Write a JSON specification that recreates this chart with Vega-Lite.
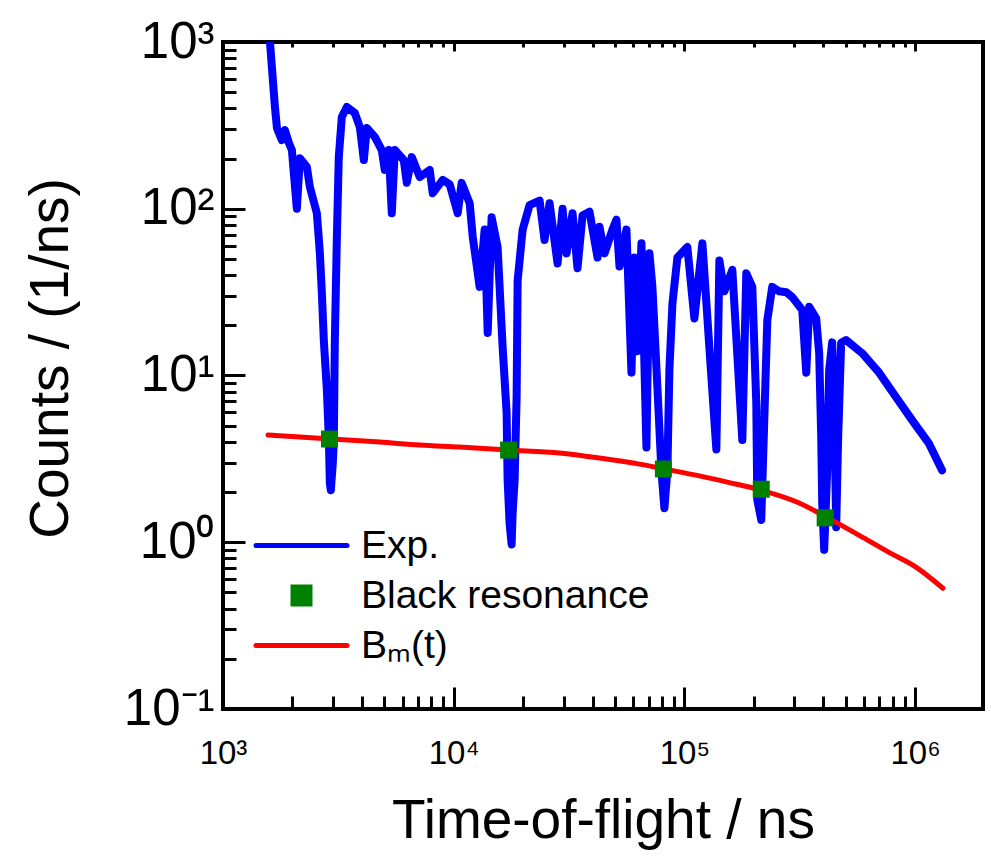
{
  "$schema": "https://vega.github.io/schema/vega-lite/v6.json",
  "width": 760,
  "height": 667,
  "autosize": {"type": "none"},
  "padding": {"left": 223, "top": 42, "right": 8, "bottom": 151},
  "background": "white",
  "config": {
    "font": "Liberation Sans",
    "view": {"stroke": "black", "strokeWidth": 4},
    "axis": {
      "domain": false,
      "grid": false,
      "labelColor": "black",
      "titleColor": "black",
      "tickColor": "black",
      "tickWidth": 3,
      "labelFont": "Liberation Sans",
      "titleFont": "Liberation Sans",
      "titleFontWeight": "normal",
      "labelOverlap": false,
      "labelFlush": false,
      "labelBound": false
    }
  },
  "datasets": {
    "exp": [
      {"t": 1535, "c": 1500, "s": "Exp."}, {"t": 1598, "c": 1000, "s": "Exp."}, {"t": 1679, "c": 408, "s": "Exp."},
      {"t": 1713, "c": 305, "s": "Exp."}, {"t": 1800, "c": 258, "s": "Exp."}, {"t": 1855, "c": 296, "s": "Exp."},
      {"t": 1931, "c": 248, "s": "Exp."}, {"t": 1989, "c": 225, "s": "Exp."}, {"t": 2090, "c": 100, "s": "Exp."},
      {"t": 2154, "c": 201, "s": "Exp."}, {"t": 2310, "c": 178, "s": "Exp."}, {"t": 2380, "c": 135, "s": "Exp."},
      {"t": 2552, "c": 94, "s": "Exp."}, {"t": 2630, "c": 54, "s": "Exp."}, {"t": 2683, "c": 31, "s": "Exp."},
      {"t": 2737, "c": 16, "s": "Exp."}, {"t": 2820, "c": 8.2, "s": "Exp."}, {"t": 2877, "c": 4.1, "s": "Exp."},
      {"t": 2905, "c": 2.26, "s": "Exp."}, {"t": 2934, "c": 2.05, "s": "Exp."}, {"t": 2993, "c": 3.0, "s": "Exp."},
      {"t": 3023, "c": 4.1, "s": "Exp."}, {"t": 3053, "c": 16, "s": "Exp."}, {"t": 3114, "c": 65, "s": "Exp."},
      {"t": 3176, "c": 204, "s": "Exp."}, {"t": 3274, "c": 355, "s": "Exp."}, {"t": 3441, "c": 408, "s": "Exp."},
      {"t": 3728, "c": 375, "s": "Exp."}, {"t": 3919, "c": 309, "s": "Exp."}, {"t": 4078, "c": 196, "s": "Exp."},
      {"t": 4202, "c": 305, "s": "Exp."}, {"t": 4550, "c": 270, "s": "Exp."}, {"t": 4879, "c": 225, "s": "Exp."},
      {"t": 5026, "c": 171, "s": "Exp."}, {"t": 5232, "c": 225, "s": "Exp."}, {"t": 5391, "c": 94, "s": "Exp."},
      {"t": 5555, "c": 225, "s": "Exp."}, {"t": 6075, "c": 196, "s": "Exp."}, {"t": 6260, "c": 143, "s": "Exp."},
      {"t": 6579, "c": 204, "s": "Exp."}, {"t": 7128, "c": 155, "s": "Exp."}, {"t": 7874, "c": 171, "s": "Exp."},
      {"t": 8112, "c": 124, "s": "Exp."}, {"t": 8964, "c": 149, "s": "Exp."}, {"t": 9610, "c": 140, "s": "Exp."},
      {"t": 10406, "c": 94, "s": "Exp."}, {"t": 10830, "c": 143, "s": "Exp."}, {"t": 11730, "c": 108, "s": "Exp."},
      {"t": 12090, "c": 68, "s": "Exp."}, {"t": 12960, "c": 34, "s": "Exp."}, {"t": 13620, "c": 75, "s": "Exp."},
      {"t": 14040, "c": 18, "s": "Exp."}, {"t": 14600, "c": 89, "s": "Exp."}, {"t": 15500, "c": 59, "s": "Exp."},
      {"t": 16300, "c": 14.8, "s": "Exp."}, {"t": 16960, "c": 6.0, "s": "Exp."}, {"t": 17130, "c": 2.36, "s": "Exp."},
      {"t": 17470, "c": 1.3, "s": "Exp."}, {"t": 17830, "c": 0.97, "s": "Exp."}, {"t": 18010, "c": 1.5, "s": "Exp."},
      {"t": 18370, "c": 2.36, "s": "Exp."}, {"t": 18740, "c": 7.4, "s": "Exp."}, {"t": 18930, "c": 37, "s": "Exp."},
      {"t": 19900, "c": 75, "s": "Exp."}, {"t": 21330, "c": 105, "s": "Exp."}, {"t": 23570, "c": 112, "s": "Exp."},
      {"t": 24770, "c": 65, "s": "Exp."}, {"t": 26040, "c": 108, "s": "Exp."}, {"t": 28200, "c": 47, "s": "Exp."},
      {"t": 29650, "c": 100, "s": "Exp."}, {"t": 30850, "c": 54, "s": "Exp."}, {"t": 32750, "c": 94, "s": "Exp."},
      {"t": 34410, "c": 44, "s": "Exp."}, {"t": 36170, "c": 91, "s": "Exp."}, {"t": 38790, "c": 96, "s": "Exp."},
      {"t": 42020, "c": 51, "s": "Exp."}, {"t": 42860, "c": 78, "s": "Exp."}, {"t": 45060, "c": 54, "s": "Exp."},
      {"t": 48800, "c": 75, "s": "Exp."}, {"t": 50760, "c": 86, "s": "Exp."}, {"t": 52320, "c": 45, "s": "Exp."},
      {"t": 56090, "c": 75, "s": "Exp."}, {"t": 58970, "c": 10.4, "s": "Exp."}, {"t": 60750, "c": 51, "s": "Exp."},
      {"t": 62590, "c": 14, "s": "Exp."}, {"t": 65150, "c": 62, "s": "Exp."}, {"t": 68470, "c": 3.7, "s": "Exp."},
      {"t": 70540, "c": 54, "s": "Exp."}, {"t": 72680, "c": 34, "s": "Exp."}, {"t": 76390, "c": 8.5, "s": "Exp."},
      {"t": 79500, "c": 2.7, "s": "Exp."}, {"t": 81920, "c": 1.6, "s": "Exp."}, {"t": 84410, "c": 2.7, "s": "Exp."},
      {"t": 86100, "c": 10.8, "s": "Exp."}, {"t": 88750, "c": 27, "s": "Exp."}, {"t": 93270, "c": 51, "s": "Exp."},
      {"t": 103000, "c": 59, "s": "Exp."}, {"t": 110500, "c": 22, "s": "Exp."}, {"t": 119700, "c": 62, "s": "Exp."},
      {"t": 128300, "c": 14.8, "s": "Exp."}, {"t": 137600, "c": 3.6, "s": "Exp."}, {"t": 141800, "c": 49, "s": "Exp."},
      {"t": 149000, "c": 32, "s": "Exp."}, {"t": 161400, "c": 43, "s": "Exp."}, {"t": 178300, "c": 4.1, "s": "Exp."},
      {"t": 185500, "c": 41, "s": "Exp."}, {"t": 197000, "c": 34, "s": "Exp."}, {"t": 205000, "c": 6.8, "s": "Exp."},
      {"t": 207000, "c": 1.8, "s": "Exp."}, {"t": 215400, "c": 1.36, "s": "Exp."}, {"t": 222000, "c": 5.4, "s": "Exp."},
      {"t": 228800, "c": 21.5, "s": "Exp."}, {"t": 240400, "c": 34, "s": "Exp."}, {"t": 257800, "c": 32, "s": "Exp."},
      {"t": 276400, "c": 31.6, "s": "Exp."}, {"t": 293500, "c": 29.5, "s": "Exp."}, {"t": 324300, "c": 24.7, "s": "Exp."},
      {"t": 337500, "c": 10.4, "s": "Exp."}, {"t": 347700, "c": 25.8, "s": "Exp."}, {"t": 372700, "c": 22, "s": "Exp."},
      {"t": 384000, "c": 13.6, "s": "Exp."}, {"t": 391900, "c": 4.3, "s": "Exp."}, {"t": 395800, "c": 1.72, "s": "Exp."},
      {"t": 403700, "c": 0.9, "s": "Exp."}, {"t": 415900, "c": 2.7, "s": "Exp."}, {"t": 424300, "c": 10.8, "s": "Exp."},
      {"t": 437200, "c": 15.8, "s": "Exp."}, {"t": 446100, "c": 6.8, "s": "Exp."}, {"t": 455000, "c": 1.23, "s": "Exp."},
      {"t": 464200, "c": 4.3, "s": "Exp."}, {"t": 478200, "c": 15.7, "s": "Exp."}, {"t": 502700, "c": 16.3, "s": "Exp."},
      {"t": 589700, "c": 13.6, "s": "Exp."}, {"t": 698500, "c": 10.4, "s": "Exp."}, {"t": 827700, "c": 7.4, "s": "Exp."},
      {"t": 970500, "c": 5.4, "s": "Exp."}, {"t": 1150000, "c": 3.9, "s": "Exp."}, {"t": 1309000, "c": 2.7, "s": "Exp."}
    ],
    "bm": [
      {"t": 1567, "c": 4.4, "s": "Bₘ(t)"}, {"t": 2153, "c": 4.28, "s": "Bₘ(t)"}, {"t": 2938, "c": 4.16, "s": "Bₘ(t)"},
      {"t": 4786, "c": 3.99, "s": "Bₘ(t)"}, {"t": 7130, "c": 3.83, "s": "Bₘ(t)"}, {"t": 10620, "c": 3.72, "s": "Bₘ(t)"},
      {"t": 17300, "c": 3.57, "s": "Bₘ(t)"}, {"t": 28770, "c": 3.43, "s": "Bₘ(t)"}, {"t": 42870, "c": 3.2, "s": "Bₘ(t)"},
      {"t": 63850, "c": 2.94, "s": "Bₘ(t)"}, {"t": 81900, "c": 2.75, "s": "Bₘ(t)"}, {"t": 116100, "c": 2.5, "s": "Bₘ(t)"},
      {"t": 156600, "c": 2.28, "s": "Bₘ(t)"}, {"t": 215400, "c": 2.05, "s": "Bₘ(t)"}, {"t": 314600, "c": 1.72, "s": "Bₘ(t)"},
      {"t": 407600, "c": 1.43, "s": "Bₘ(t)"}, {"t": 572800, "c": 1.1, "s": "Bₘ(t)"}, {"t": 771000, "c": 0.87, "s": "Bₘ(t)"},
      {"t": 1009000, "c": 0.71, "s": "Bₘ(t)"}, {"t": 1321000, "c": 0.53, "s": "Bₘ(t)"}
    ],
    "black": [
      {"t": 2895, "c": 4.16, "s": "Black resonance"}, {"t": 17300, "c": 3.57, "s": "Black resonance"},
      {"t": 81100, "c": 2.75, "s": "Black resonance"}, {"t": 215400, "c": 2.08, "s": "Black resonance"},
      {"t": 407600, "c": 1.40, "s": "Black resonance"}
    ]
  },
  "resolve": {"axis": {"x": "independent"}},
  "layer": [
    {
      "data": {"name": "exp"},
      "mark": {"type": "line", "strokeWidth": 8, "clip": true, "strokeJoin": "round", "strokeCap": "round"},
      "encoding": {
        "x": {
          "field": "t", "type": "quantitative",
          "scale": {"type": "log", "domain": [1000, 1970000], "nice": false},
          "axis": {
            "orient": "bottom",
            "title": "Time-of-flight / ns",
            "titleFontSize": 55,
            "titleY": 128,
            "titleBaseline": "alphabetic",
            "labelFontSize": 33,
            "labelPadding": 50,
            "values": [1000,2000,3000,4000,5000,6000,7000,8000,9000,10000,20000,30000,40000,50000,60000,70000,80000,90000,100000,200000,300000,400000,500000,600000,700000,800000,900000,1000000],
            "labelExpr": "abs(log(datum.value)/LN10 - round(log(datum.value)/LN10)) < 0.001 ? '10' + ['⁻¹','⁰','¹','²','³','⁴','⁵','⁶'][round(log(datum.value)/LN10)+1] : ''",
            "tickSize": {"condition": {"test": "abs(log(datum.value)/LN10 - round(log(datum.value)/LN10)) < 0.001", "value": -22}, "value": -13}
          }
        },
        "y": {
          "field": "c", "type": "quantitative",
          "scale": {"type": "log", "domain": [0.1, 1000], "nice": false},
          "axis": {
            "title": "Counts / (1/ns)",
            "titleFontSize": 55,
            "titleX": -156,
            "titleY": 316,
            "titleAngle": -90,
            "titleAlign": "center",
            "titleBaseline": "alphabetic",
            "labelFontSize": 51,
            "labelPadding": 31,
            "labelBaseline": "middle",
            "values": [0.1,0.2,0.3,0.4,0.5,0.6,0.7,0.8,0.9,1,2,3,4,5,6,7,8,9,10,20,30,40,50,60,70,80,90,100,200,300,400,500,600,700,800,900,1000],
            "labelExpr": "abs(log(datum.value)/LN10 - round(log(datum.value)/LN10)) < 0.001 ? '10' + ['⁻¹','⁰','¹','²','³','⁴','⁵','⁶'][round(log(datum.value)/LN10)+1] : ''",
            "tickSize": {"condition": {"test": "abs(log(datum.value)/LN10 - round(log(datum.value)/LN10)) < 0.001", "value": -22}, "value": -13}
          }
        },
        "color": {
          "field": "s", "type": "nominal",
          "scale": {"domain": ["Exp.", "Black resonance", "Bₘ(t)"], "range": ["#0000ff", "#008000", "#ff0000"]},
          "legend": {
            "title": null,
            "orient": "none",
            "legendX": 59,
            "legendY": 484,
            "padding": 0,
            "labelFontSize": 39,
            "labelFont": "Liberation Sans",
            "labelColor": "black",
            "labelLimit": 600,
            "labelOffset": 40,
            "rowPadding": 10,
            "symbolType": "M-9.1,0L9.1,0",
            "symbolSize": 100,
            "symbolStrokeWidth": 5,
            "encode": {
              "symbols": {
                "update": {
                  "shape": {"signal": "datum.value === 'Black resonance' ? 'square' : 'M-9.1,0L9.1,0'"},
                  "size": {"signal": "datum.value === 'Black resonance' ? 289 : 100"},
                  "fill": {"signal": "datum.value === 'Black resonance' ? '#008000' : 'transparent'"},
                  "stroke": {"signal": "datum.value === 'Exp.' ? '#0000ff' : (datum.value === 'Black resonance' ? 'transparent' : '#ff0000')"},
                  "strokeWidth": {"value": 5},
                  "strokeCap": {"value": "round"},
                  "opacity": {"value": 1}
                }
              }
            }
          }
        }
      }
    },
    {
      "data": {"name": "bm"},
      "mark": {"type": "line", "strokeWidth": 5, "strokeCap": "round", "interpolate": "monotone"},
      "encoding": {
        "x": {
          "field": "t", "type": "quantitative",
          "scale": {"type": "log", "domain": [1000, 1970000], "nice": false},
          "axis": {
            "orient": "top",
            "title": null,
            "labels": false,
            "values": [1000,2000,3000,4000,5000,6000,7000,8000,9000,10000,20000,30000,40000,50000,60000,70000,80000,90000,100000,200000,300000,400000,500000,600000,700000,800000,900000,1000000],
            "tickSize": {"condition": {"test": "abs(log(datum.value)/LN10 - round(log(datum.value)/LN10)) < 0.001", "value": -9}, "value": -5}
          }
        },
        "y": {"field": "c", "type": "quantitative", "scale": {"type": "log", "domain": [0.1, 1000], "nice": false}},
        "color": {"field": "s", "type": "nominal"}
      }
    },
    {
      "data": {"name": "black"},
      "mark": {"type": "point", "shape": "square", "filled": true, "size": 289, "opacity": 1},
      "encoding": {
        "x": {"field": "t", "type": "quantitative", "scale": {"type": "log", "domain": [1000, 1970000], "nice": false}, "axis": null},
        "y": {"field": "c", "type": "quantitative", "scale": {"type": "log", "domain": [0.1, 1000], "nice": false}},
        "color": {"field": "s", "type": "nominal"}
      }
    }
  ]
}
